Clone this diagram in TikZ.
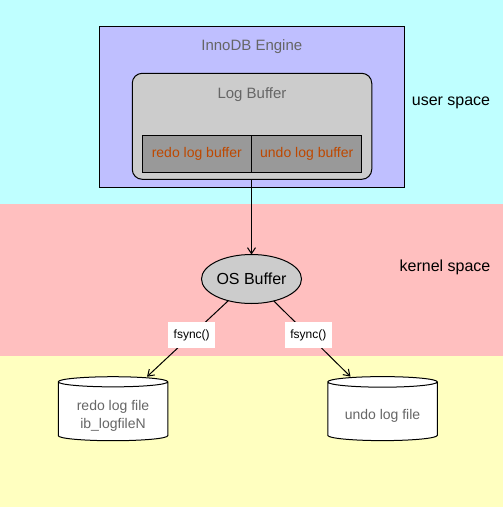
\documentclass[tikz,border=0pt]{standalone}
\usepackage{fontspec}
\setmainfont{Liberation Sans}
\usetikzlibrary{shapes.geometric,arrows.meta,positioning}

\definecolor{usercol}{RGB}{191,255,255}
\definecolor{kernelcol}{RGB}{255,191,191}
\definecolor{diskcol}{RGB}{255,255,192}
\definecolor{enginecol}{RGB}{191,191,255}
\definecolor{lbcol}{RGB}{204,204,204}
\definecolor{bufcol}{RGB}{153,153,153}
\definecolor{rust}{RGB}{190,72,0}
\definecolor{txtgray}{RGB}{102,102,102}

\newcommand{\txtsize}[1]{\fontsize{#1}{18.5}\selectfont}

\begin{document}
\begin{tikzpicture}[x=1pt,y=1pt,
every node/.style={inner sep=0pt,outer sep=0pt},
line width=1pt,
buf/.style={draw,fill=bufcol,text=rust,minimum width=109.5pt,minimum height=37pt,font=\txtsize{14}},
file/.style={cylinder,shape border rotate=90,aspect=0.14,draw,fill=white,text depth=0pt,
minimum width=109.5pt,minimum height=64pt,align=center,text=txtgray,font=\txtsize{14}},
call/.style={fill=white,minimum height=26pt,inner xsep=5.5pt,font=\txtsize{12}},
tip/.style={-{Straight Barb[length=6pt,width=8pt]}}]
\useasboundingbox (0,0) rectangle (503,-507);

% bands
\fill[usercol] (0,0) rectangle (503,-204);
\fill[kernelcol] (0,-204) rectangle (503,-356);
\fill[diskcol] (0,-356) rectangle (503,-507);
\node[font=\txtsize{16}] (us) at (451,-103) {user space};
\node[font=\txtsize{16}] (ks) at (445,-267) {kernel space};

% engine
\node[draw,fill=enginecol,minimum width=305pt,minimum height=161pt] (eng) at (251.8,-107) {};
\node[text=txtgray,font=\txtsize{15}] (engt) at (251.8,-46.5) {InnoDB Engine};
\node[draw,fill=lbcol,rounded corners=10pt,minimum width=239.5pt,minimum height=106pt] (lb) at (252,-126.3) {};
\node[text=txtgray,font=\txtsize{15}] (lbt) at (252,-94.5) {Log Buffer};
\node[buf] (redob) at (196.8,-153.8) {redo log buffer};
\node[buf,right=0pt of redob,minimum width=110.4pt] (undob) {undo log buffer};

% kernel
\node[ellipse,draw,fill=lbcol,minimum width=100pt,minimum height=49pt,font=\txtsize{16}] (os) at (251.5,-279) {OS Buffer};
\draw[tip] (os.north |- lb.south) -- (os.north);

% files
\node[file,text height=34.5pt] (redof) at (113,-411.5) {redo log file\\ib\_logfileN};
\node[file,text height=15.5pt] (undof) at (382.5,-411.5) {undo log file};

\draw[tip] (os) -- node[call,pos=0.45] (c1) {fsync()} ([xshift=34pt]redof.north);
\draw[tip] (os) -- node[call,pos=0.45] (c2) {fsync()} ([xshift=-32pt]undof.north);
\end{tikzpicture}
\end{document}
